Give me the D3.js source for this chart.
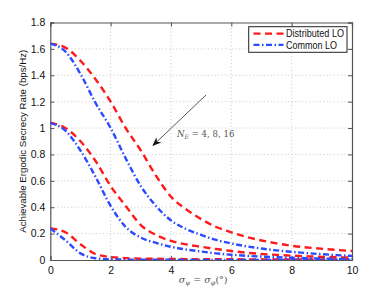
<!DOCTYPE html>
<html><head><meta charset="utf-8">
<script src="https://cdn.jsdelivr.net/npm/d3@7"></script>
<style>body{margin:0;background:#fff}svg{display:block}</style>
</head><body>
<script>
const xs = [0,0.5,1,1.5,2,2.5,3,3.5,4,4.5,5,5.5,6,6.5,7,7.5,8,8.5,9,9.5,10];
const dist16 = [1.64,1.61,1.51,1.37,1.20,1.00,0.83,0.64,0.48,0.385,0.31,0.25,0.21,0.175,0.148,0.126,0.108,0.095,0.085,0.076,0.068];
const comm16 = [1.64,1.58,1.41,1.19,1.00,0.77,0.56,0.41,0.30,0.235,0.19,0.152,0.125,0.104,0.087,0.073,0.062,0.052,0.044,0.037,0.031];
const dist8  = [1.04,1.00,0.90,0.75,0.56,0.41,0.265,0.19,0.145,0.118,0.10,0.083,0.068,0.055,0.046,0.039,0.033,0.028,0.024,0.021,0.018];
const comm8  = [1.04,0.98,0.83,0.63,0.41,0.25,0.17,0.13,0.10,0.08,0.064,0.05,0.04,0.032,0.026,0.021,0.017,0.014,0.011,0.009,0.008];
const dist4  = [0.24,0.21,0.12,0.045,0.022,0.014,0.010,0.009,0.008,0.007,0.007,0.006,0.006,0.005,0.005,0.005,0.004,0.004,0.004,0.004,0.004];
const comm4  = [0.24,0.15,0.05,0.013,0.005,0.003,0.002,0.002,0.002,0.001,0.001,0.001,0.001,0.001,0.001,0.001,0.001,0.001,0.001,0.001,0.001];
const xTicks = [0,2,4,6,8,10];
const yTicks = [0,0.2,0.4,0.6,0.8,1,1.2,1.4,1.6,1.8];
const legendLabels = ["Distributed LO","Common LO"];

const W=388,H=292;
const m={l:50.3,r:36,t:22.5,b:32};
const svg=d3.select("body").append("svg").attr("width",W).attr("height",H);
const x=d3.scaleLinear().domain([0,10]).range([m.l,W-m.r]);
const y=d3.scaleLinear().domain([0,1.8]).range([H-m.b,m.t]);
const font="Liberation Sans, Arial, Helvetica, sans-serif";

// grid
const g=svg.append("g");
g.selectAll(".gx").data(xTicks.slice(1,-1)).enter().append("line")
 .attr("x1",d=>x(d)).attr("x2",d=>x(d)).attr("y1",y(0)).attr("y2",y(1.8))
 .attr("stroke","#bbb").attr("stroke-width",0.8).attr("stroke-dasharray","1,2.5");
g.selectAll(".gy").data(yTicks.slice(1,-1)).enter().append("line")
 .attr("y1",d=>y(d)).attr("y2",d=>y(d)).attr("x1",x(0)).attr("x2",x(10))
 .attr("stroke","#bbb").attr("stroke-width",0.8).attr("stroke-dasharray","1,2.5");

// axes
const ax=d3.axisBottom(x).tickValues(xTicks).tickSize(-4).tickPadding(7).tickFormat(d3.format("d"));
const ay=d3.axisLeft(y).tickValues(yTicks).tickSize(-4).tickPadding(5).tickFormat(d=>String(+d.toFixed(1)));
const gx=svg.append("g").attr("transform",`translate(0,${y(0)})`).call(ax);
const gy=svg.append("g").attr("transform",`translate(${x(0)},0)`).call(ay);
const axt=d3.axisTop(x).tickValues(xTicks).tickSize(-4).tickFormat("");
const ayr=d3.axisRight(y).tickValues(yTicks).tickSize(-4).tickFormat("");
const gt=svg.append("g").attr("transform",`translate(0,${y(1.8)})`).call(axt);
const gr=svg.append("g").attr("transform",`translate(${x(10)},0)`).call(ayr);
[gx,gy,gt,gr].forEach(a=>{
  a.select(".domain").attr("stroke","#555").attr("stroke-width",1.2);
  a.selectAll(".tick line").attr("stroke","#555");
  a.selectAll("text").attr("font-family",font).attr("font-size",10.5).attr("fill","#111");
});

// series
const line=d3.line().x((d,i)=>x(xs[i])).y(d=>y(d)).curve(d3.curveMonotoneX);
const series=[
 {v:dist16,c:"#ff1a1a",dash:"7,4.5"},
 {v:dist8,c:"#ff1a1a",dash:"7,4.5"},
 {v:dist4,c:"#ff1a1a",dash:"7,4.5"},
 {v:comm16,c:"#2a4bff",dash:"6,2.5,1.5,2.5"},
 {v:comm8,c:"#2a4bff",dash:"6,2.5,1.5,2.5"},
 {v:comm4,c:"#2a4bff",dash:"6,2.5,1.5,2.5"}];
svg.append("clipPath").attr("id","c").append("rect")
 .attr("x",x(0)).attr("y",y(1.8)).attr("width",x(10)-x(0)).attr("height",y(0)-y(1.8));
svg.append("g").attr("clip-path","url(#c)").selectAll("path").data(series).enter().append("path")
 .attr("d",d=>line(d.v)).attr("fill","none").attr("stroke",d=>d.c)
 .attr("stroke-width",2.4).attr("stroke-dasharray",d=>d.dash);

// legend
const lg=svg.append("g");
lg.append("rect").attr("x",248.7).attr("y",26.7).attr("width",98.3).attr("height",25.6)
 .attr("fill","#fff").attr("stroke","#222").attr("stroke-width",1);
[{c:"#ff1a1a",dash:"7,4.5"},{c:"#2a4bff",dash:"6,2.5,1.5,2.5"}].forEach((s,i)=>{
  const yy=33.6+i*11.3;
  lg.append("line").attr("x1",253.5).attr("x2",283.5).attr("y1",yy).attr("y2",yy)
   .attr("stroke",s.c).attr("stroke-width",2.4).attr("stroke-dasharray",s.dash);
  lg.append("text").attr("x",286).attr("y",yy+3.7).text(legendLabels[i])
   .attr("font-family",font).attr("font-size",10.2).attr("textLength",i===0?58:51)
   .attr("lengthAdjust","spacingAndGlyphs").attr("fill","#111");
});

// labels
svg.append("text").attr("transform",`translate(26,${(y(0)+y(1.8))/2}) rotate(-90)`)
 .attr("text-anchor","middle").attr("font-family",font).attr("font-size",9.7).attr("fill","#111")
 .text("Achievable Ergodic Secrecy Rate (bps/Hz)");
const xl=svg.append("text").attr("x",(x(0)+x(10))/2+2).attr("y",283).attr("text-anchor","middle")
 .attr("font-family","DejaVu Serif, serif").attr("font-style","italic").attr("font-size",9.5).attr("fill","#555");
xl.append("tspan").text("σ");
xl.append("tspan").attr("font-size",6.5).attr("dy",2).text("ψ");
xl.append("tspan").attr("dy",-2).attr("font-style","normal").text(" = ");
xl.append("tspan").text("σ");
xl.append("tspan").attr("font-size",6.5).attr("dy",2).text("φ");
xl.append("tspan").attr("dy",-2).attr("font-style","normal").text("(°)");

// annotation arrow
const defs=svg.append("defs");
defs.append("marker").attr("id","ah").attr("viewBox","0 0 10 10").attr("refX",9).attr("refY",5)
 .attr("markerWidth",9).attr("markerHeight",9).attr("orient","auto").attr("markerUnits","userSpaceOnUse")
 .append("path").attr("d","M0,1 L10,5 L0,9 L3,5 Z").attr("fill","#111");
svg.append("line").attr("x1",206).attr("y1",95).attr("x2",153).attr("y2",145.5)
 .attr("stroke","#444").attr("stroke-width",0.9).attr("marker-end","url(#ah)");
const at=svg.append("text").attr("x",177).attr("y",137).attr("font-family","DejaVu Serif, serif")
 .attr("font-size",8.6).attr("fill","#555");
at.append("tspan").attr("font-style","italic").text("N");
at.append("tspan").attr("font-style","italic").attr("font-size",6).attr("dy",2).text("E");
at.append("tspan").attr("dy",-2).text(" = 4, 8, 16");
</script>
</body></html>
